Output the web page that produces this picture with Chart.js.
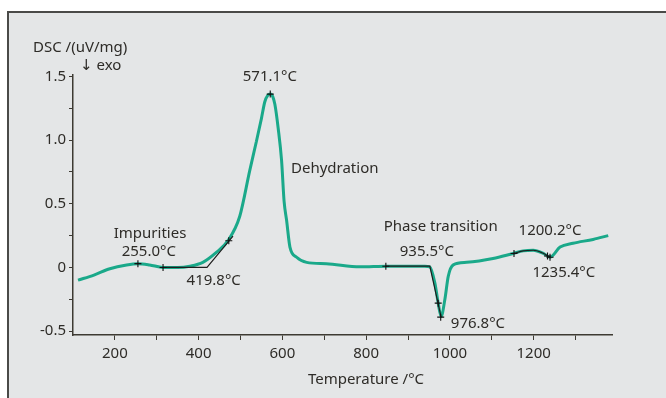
<!DOCTYPE html>
<html>
<head>
<meta charset="utf-8">
<script src="https://cdn.jsdelivr.net/npm/chart.js@4/dist/chart.umd.min.js"></script>
<style>
  body { margin: 0; background: #fff; }
  #panel { position: absolute; left: 7px; top: 11px; right: 0; bottom: 0; background: #e4e6e7;
           border-top: 2px solid #4a4a48; border-left: 2px solid #4a4a48; }
  #c { position: absolute; left: 0; top: 0; }
</style>
</head>
<body>
<div id="panel"></div>
<canvas id="c" width="666" height="398"></canvas>
<script>
// DSC curve
const temps = [112, 150, 188, 228, 255, 283, 315, 350, 379, 410, 443, 470, 498, 522, 538, 550, 558, 565, 571, 577, 582, 590, 598, 604, 610, 618, 634, 658, 705, 785, 850, 900, 940, 952, 964, 972, 979, 988, 996, 1008, 1040, 1103, 1151, 1175, 1199, 1223, 1239, 1263, 1294, 1342, 1378];
const dsc   = [-0.10, -0.06, -0.01, 0.02, 0.03, 0.02, 0.0, 0.0, 0.01, 0.04, 0.12, 0.21, 0.40, 0.76, 0.99, 1.17, 1.30, 1.35, 1.36, 1.34, 1.28, 1.09, 0.84, 0.52, 0.37, 0.16, 0.08, 0.04, 0.03, 0.005, 0.01, 0.01, 0.01, 0.005, -0.12, -0.28, -0.385, -0.25, -0.07, 0.02, 0.04, 0.07, 0.11, 0.13, 0.135, 0.11, 0.08, 0.16, 0.19, 0.22, 0.25];

// onset construction lines
const onset1T = [315, 420, 482];
const onset1V = [0, 0, 0.245];
const onset2T = [847, 952, 979];
const onset2V = [0.01, 0.01, -0.39];
const bumpT = [1153, 1175, 1199, 1220, 1239];
const bumpV = [0.11, 0.13, 0.135, 0.115, 0.08];

// evaluation markers (+)
const markT = [255, 315, 472, 571, 847, 972, 978, 1153, 1233, 1239];
const markV = [0.03, 0, 0.21, 1.36, 0.01, -0.28, -0.39, 0.11, 0.09, 0.08];

// annotation texts, anchored in data units
const noteText = ['Impurities', '255.0°C', '419.8°C', '571.1°C', 'Dehydration', 'Phase transition', '935.5°C', '976.8°C', '1200.2°C', '1235.4°C'];
const noteT = [284, 281, 436, 570, 725, 978, 945, 1067, 1239, 1272];
const noteV = [0.267, 0.12, -0.107, 1.50, 0.773, 0.32, 0.127, -0.44, 0.29, -0.045];

const xTicks = [200, 300, 400, 500, 600, 700, 800, 900, 1000, 1100, 1200, 1300];
const yTicks = [-0.5, -0.25, 0, 0.25, 0.5, 0.75, 1.0, 1.25, 1.5];

const FONT = '"Noto Sans", "DejaVu Sans", sans-serif';
const INK = '#2e2c28';
const AXIS = '#3d3a33';

function pts(xs, ys) { return xs.map((x, i) => ({ x: x, y: ys[i] })); }

const textPlugin = {
  id: 'texts',
  afterDatasetsDraw(chart) {
    const ctx = chart.ctx;
    const xs = chart.scales.x, ys = chart.scales.y;
    ctx.save();
    ctx.fillStyle = INK;
    ctx.font = '15px ' + FONT;
    ctx.textAlign = 'center';
    ctx.textBaseline = 'middle';
    noteText.forEach((t, i) => {
      ctx.fillText(t, xs.getPixelForValue(noteT[i]), ys.getPixelForValue(noteV[i]));
    });
    ctx.fillText('Temperature /°C', 366, 380);
    ctx.textAlign = 'left';
    ctx.fillText('DSC /(uV/mg)', 33, 48);
    ctx.fillText('\u2193 exo', 80, 66);
    ctx.restore();
  }
};

new Chart(document.getElementById('c'), {
  type: 'scatter',
  data: {
    datasets: [
      { data: pts(temps, dsc), showLine: true, borderColor: '#1aa98a', borderWidth: 3,
        pointRadius: 0, cubicInterpolationMode: 'monotone', order: 3 },
      { data: pts(onset1T, onset1V), showLine: true, borderColor: '#1e1e1e', borderWidth: 1.2,
        pointRadius: 0, order: 2 },
      { data: pts(onset2T, onset2V), showLine: true, borderColor: '#1e1e1e', borderWidth: 1.2,
        pointRadius: 0, order: 2 },
      { data: pts(bumpT, bumpV), showLine: true, borderColor: '#1e1e1e', borderWidth: 1.2,
        pointRadius: 0, cubicInterpolationMode: 'monotone', order: 2 },
      { data: pts(markT, markV), pointStyle: 'cross', pointRadius: 3.5, borderColor: '#111',
        borderWidth: 1.1, backgroundColor: '#111', order: 1 }
    ]
  },
  options: {
    responsive: false,
    animation: false,
    layout: { padding: { left: 0, top: 75, right: 54, bottom: 23 } },
    plugins: { legend: { display: false }, tooltip: { enabled: false } },
    scales: {
      x: {
        type: 'linear', min: 100, max: 1387,
        afterBuildTicks: s => { s.ticks = xTicks.map(v => ({ value: v })); },
        afterFit: s => { s.height = 40; },
        border: { display: true, color: AXIS, width: 1.5 },
        grid: { drawOnChartArea: false, drawTicks: true, tickLength: 5, tickColor: AXIS },
        ticks: {
          color: INK, font: { family: FONT, size: 15 }, padding: 5, maxRotation: 0,
          autoSkip: false,
          callback: v => (v % 200 === 0 ? String(v) : '')
        }
      },
      y: {
        min: -0.53, max: 1.51,
        afterBuildTicks: s => { s.ticks = yTicks.map(v => ({ value: v })); },
        afterFit: s => { s.width = 73; },
        border: { display: true, color: AXIS, width: 1.5 },
        grid: { drawOnChartArea: false, drawTicks: true, tickLength: 4, tickColor: AXIS },
        ticks: {
          color: INK, font: { family: FONT, size: 15 }, padding: 3, autoSkip: false,
          callback: v => {
            if (Math.abs(v * 2 - Math.round(v * 2)) > 1e-6) return '';
            return v === 0 ? '0' : v.toFixed(1);
          }
        }
      }
    }
  },
  plugins: [textPlugin]
});
</script>
</body>
</html>
